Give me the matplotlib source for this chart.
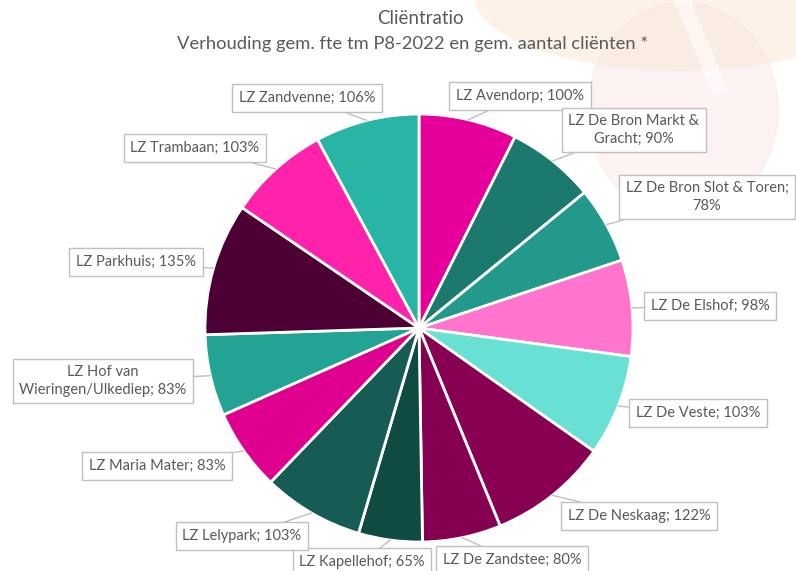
import matplotlib
matplotlib.use('Agg')
import numpy as np
import matplotlib.pyplot as plt
from matplotlib.patches import Ellipse, Polygon

W, H = 796, 571

# data, clockwise from 12 o'clock
locaties = ['LZ Avendorp', 'LZ De Bron Markt &\nGracht', 'LZ De Bron Slot & Toren;\n', 'LZ De Elshof',
            'LZ De Veste', 'LZ De Neskaag', 'LZ De Zandstee', 'LZ Kapellehof', 'LZ Lelypark',
            'LZ Maria Mater', 'LZ Hof van\nWieringen/Ulkediep', 'LZ Parkhuis', 'LZ Trambaan', 'LZ Zandvenne']
ratio = [100, 90, 78, 98, 103, 122, 80, 65, 103, 83, 83, 135, 103, 106]
kleuren = ['#E6009A', '#1B796D', '#22998B', '#FF74CC', '#68E0D4', '#870052', '#850050',
           '#104B43', '#165C54', '#DF0090', '#23A394', '#4C0033', '#FF22AA', '#28B5A6']

# label box centres (pixels from top-left)
label_pos = [(520, 96), (634, 130), (707, 197), (710, 306), (698, 413), (639, 516), (512, 560),
             (362, 562), (242, 536), (157, 466), (103, 381), (136, 262), (195, 148), (307, 98)]

fig = plt.figure(figsize=(W / 100, H / 100), dpi=100)
ax = fig.add_axes([0, 0, 1, 1])

# faint background decoration
ax.add_patch(Ellipse((680, H + 5), 410, 150, color='#FDF2E6', zorder=0))
ax.add_patch(Ellipse((683, H - 110), 190, 215, color='#F8E3E1', alpha=0.45, zorder=0))
ax.add_patch(Polygon([(674, H), (690, H), (728, H - 92), (714, H - 95)], closed=True,
                     color='white', alpha=0.55, zorder=0))

cx, cy, r = 419, H - 328, 214
wedges, _ = ax.pie(ratio, colors=kleuren, startangle=90, counterclock=False,
                   center=(cx, cy), radius=r, frame=True,
                   wedgeprops=dict(edgecolor='white', linewidth=2))
ax.set_xlim(0, W)
ax.set_ylim(0, H)
ax.set_aspect('equal')
ax.axis('off')

for w, naam, val, (lx, ly) in zip(wedges, locaties, ratio, label_pos):
    mid = np.deg2rad((w.theta1 + w.theta2) / 2)
    px, py = cx + r * np.cos(mid), cy + r * np.sin(mid)
    if naam.endswith('\n'):
        tekst = naam + f'{val}%'
    else:
        tekst = f'{naam}; {val}%'
    ax.annotate(tekst, xy=(px, py), xytext=(lx, H - ly), ha='center', va='center',
                fontsize=10.5, color='#595959', family='Lato', linespacing=1.35,
                bbox=dict(boxstyle='square,pad=0.45', fc='white', ec='#BFBFBF', lw=1),
                arrowprops=dict(arrowstyle='-', color='#BFBFBF', lw=1, shrinkA=0, shrinkB=0),
                zorder=5)

ax.text(420, H - 18, 'Cliëntratio', ha='center', va='center', fontsize=13.5,
        color='#595959', family='Lato')
ax.text(413, H - 44, 'Verhouding gem. fte tm P8-2022 en gem. aantal cliënten *', ha='center',
        va='center', fontsize=13.2, color='#595959', family='Lato')

fig.savefig('out.png', dpi=100)
